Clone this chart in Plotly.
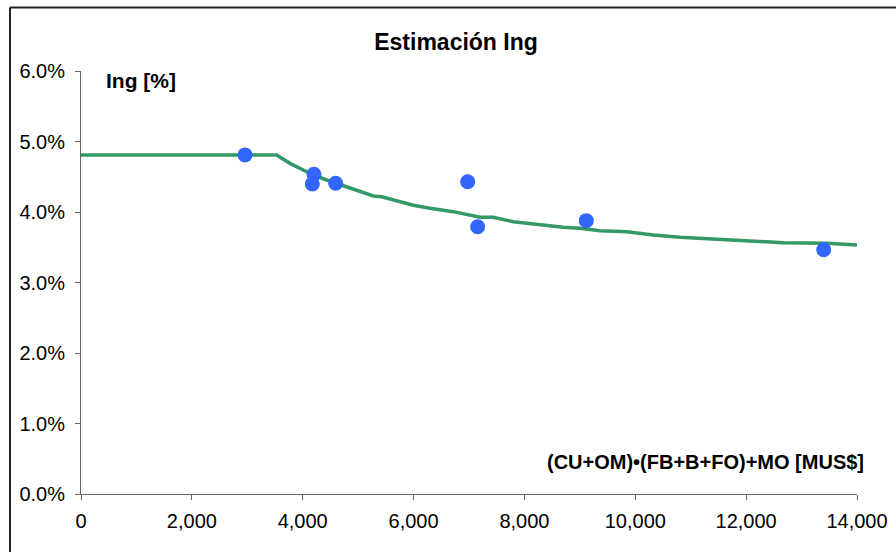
import plotly.graph_objects as go

# Observed points
obs_x = [2959, 4203, 4173, 4595, 6976, 7156, 9116, 13399]
obs_y = [4.81, 4.535, 4.397, 4.407, 4.43, 3.79, 3.877, 3.465]

# Estimation curve
fit_x = [0, 1000, 2000, 3000, 3530, 3770, 3951, 4191, 4432, 4793, 4973, 5274, 5424,
         5755, 5996, 6296, 6717, 7198, 7439, 7799, 8040, 8340, 8701, 9002, 9363,
         9844, 10325, 10806, 11408, 12009, 12670, 13452, 14000]
fit_y = [4.81, 4.81, 4.81, 4.81, 4.81, 4.69, 4.62, 4.525, 4.454, 4.36, 4.31, 4.227, 4.217,
         4.146, 4.095, 4.052, 4.005, 3.925, 3.925, 3.863, 3.84, 3.816, 3.783, 3.768, 3.735,
         3.72, 3.674, 3.641, 3.617, 3.589, 3.565, 3.556, 3.532]

x_ticks = [0, 2000, 4000, 6000, 8000, 10000, 12000, 14000]
x_tick_labels = ["0", "2,000", "4,000", "6,000", "8,000", "10,000", "12,000", "14,000"]
y_ticks = [0, 1, 2, 3, 4, 5, 6]
y_tick_labels = ["0.0%", "1.0%", "2.0%", "3.0%", "4.0%", "5.0%", "6.0%"]

FONT = "Liberation Sans, Arial, sans-serif"

fig = go.Figure()
fig.add_trace(go.Scatter(x=fit_x, y=fit_y, mode="lines",
                         line=dict(color="#339966", width=3.5), showlegend=False,
                         hoverinfo="skip"))
fig.add_trace(go.Scatter(x=obs_x, y=obs_y, mode="markers",
                         marker=dict(color="#3366FF", size=15, line=dict(width=0)),
                         showlegend=False))

fig.update_layout(
    width=896, height=552,
    margin=dict(l=81, r=39, t=71, b=58, autoexpand=False),
    paper_bgcolor="white", plot_bgcolor="white",
    font=dict(family=FONT, size=20, color="black"),
    title=dict(text="<b>Estimación Ing</b>", x=456/896, xanchor="center",
               y=1 - 42/552, yanchor="middle", font=dict(size=23, family=FONT)),
    xaxis=dict(range=[0, 14000], tickvals=x_ticks, ticktext=x_tick_labels,
               showgrid=False, zeroline=False, showline=True, linecolor="#666666",
               linewidth=1, ticks="outside", ticklen=5, tickcolor="#666666",
               ticklabelstandoff=4, tickfont=dict(size=20), automargin=False),
    yaxis=dict(range=[0, 6], tickvals=y_ticks, ticktext=y_tick_labels,
               showgrid=False, zeroline=False, showline=True, linecolor="#666666",
               linewidth=1, ticks="outside", ticklen=5, tickcolor="#666666",
               ticklabelstandoff=6, tickfont=dict(size=20), automargin=False),
    annotations=[
        dict(text="<b>Ing [%]</b>", xref="paper", yref="paper",
             x=(104 - 81) / 776, y=(494 - 80) / 423, xanchor="left", yanchor="middle",
             showarrow=False, font=dict(size=21, family=FONT)),
        dict(text="<b>(CU+OM)•(FB+B+FO)+MO [MUS$]</b>", xref="paper", yref="paper",
             x=(866 - 81) / 776, y=(494 - 462) / 423, xanchor="right", yanchor="middle",
             showarrow=False, font=dict(size=20, family=FONT)),
    ],
    shapes=[
        dict(type="line", xref="paper", yref="paper",
             x0=-71/776, x1=(896 - 81) / 776, y0=(494 - 7.5) / 423, y1=(494 - 7.5) / 423,
             line=dict(color="#222222", width=2)),
        dict(type="line", xref="paper", yref="paper",
             x0=-71/776, x1=-71/776, y0=(494 - 7.5) / 423, y1=-60/423,
             line=dict(color="#222222", width=2)),
    ],
)

fig.write_html("out.html", config={"displayModeBar": False},
               post_script="document.body.style.margin='0';document.body.style.overflow='hidden';")
